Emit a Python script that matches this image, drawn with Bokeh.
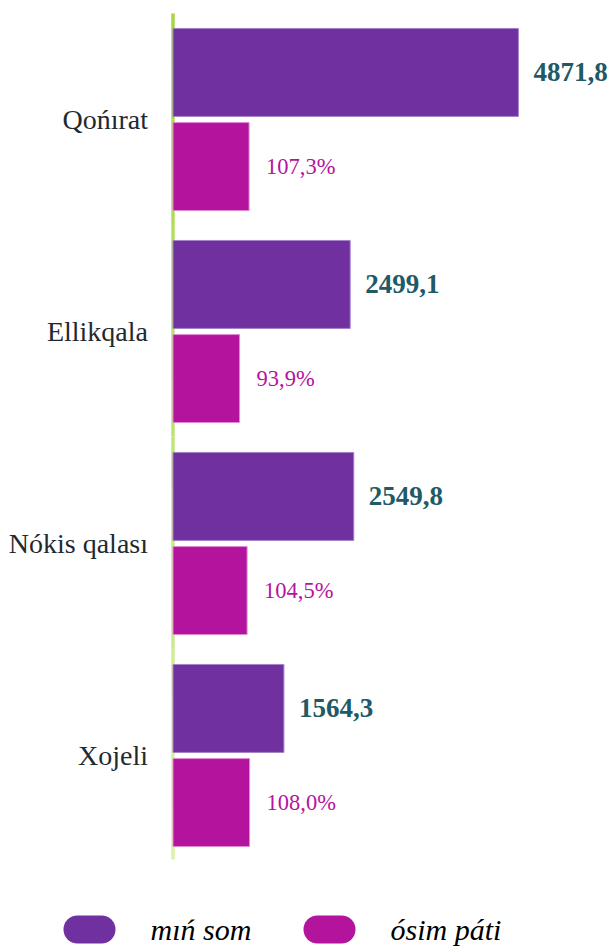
from bokeh.plotting import figure
from bokeh.models import Range1d, ColumnDataSource
from bokeh.core.properties import value
from bokeh.embed import file_html
from bokeh.resources import INLINE

# ---- data ----
regions = ["Qońırat", "Ellikqala", "Nókis qalası", "Xojeli"]
min_som = [4871.8, 2499.1, 2549.8, 1564.3]
osim_pati = [107.3, 93.9, 104.5, 108.0]
min_som_labels = ["4871,8", "2499,1", "2549,8", "1564,3"]
osim_labels = ["107,3%", "93,9%", "104,5%", "108,0%"]
series_names = ["mıń som", "ósim páti"]

# ---- styling / layout ----
PURPLE = "#7030A0"
MAGENTA = "#B4139E"
VAL_COLOR = "#215A66"
CAT_COLOR = "#1F2A30"
SERIF = "Liberation Serif"

W, H = 609, 946
X0PX = 172.5          # pixel of value zero inside the figure
SX = 0.0709           # pixels per "mıń som" unit
RATIO = 10.0          # percent axis is 10x stretched
BAND = 212.0          # pixels per category
TOPPX = 119.0         # pixel centre of first category

x_start = -X0PX / SX
x_end = (W - X0PX) / SX
y_top = -TOPPX / BAND
y_bottom = y_top + H / BAND


def fx(px):  # pixel -> primary x data
    return (px - X0PX) / SX


def fy(py):  # pixel -> y data
    return y_top + py / BAND


p = figure(width=W, height=H, output_backend="svg", toolbar_location=None,
           x_range=Range1d(x_start, x_end), y_range=Range1d(y_bottom, y_top),
           min_border=0, outline_line_color=None,
           x_axis_location=None, y_axis_location=None)
p.extra_x_ranges = {"pct": Range1d(x_start / RATIO, x_end / RATIO)}
p.grid.visible = False
p.background_fill_color = "white"
p.border_fill_color = "white"

idx = list(range(len(regions)))
OFF = 0.222
BH = 0.415

# green axis line with light gradient
n_seg = 16
c0 = (0xA6, 0xD6, 0x48)
c1 = (0xDC, 0xF1, 0xAC)
ya, yb = -0.5, 3.49
for i in range(n_seg):
    t = i / (n_seg - 1)
    col = "#%02x%02x%02x" % tuple(int(c0[k] + (c1[k] - c0[k]) * t) for k in range(3))
    p.segment(x0=[0], x1=[0], y0=[ya + (yb - ya) * i / n_seg],
              y1=[ya + (yb - ya) * (i + 1) / n_seg], line_color=col, line_width=3.5)

src = ColumnDataSource(dict(
    y1=[i - OFF for i in idx], y2=[i + OFF for i in idx],
    v1=min_som, v2=osim_pati, l1=min_som_labels, l2=osim_labels,
    cat=regions, yc=idx, zero=[0] * len(idx)))

p.hbar(y="y1", right="v1", left=0, height=BH, source=src,
       fill_color=PURPLE, line_color="#A383C8", line_width=1)
p.hbar(y="y2", right="v2", left=0, height=BH, source=src, x_range_name="pct",
       fill_color=MAGENTA, line_color="#E08AD5", line_width=1)

p.text(x="v1", y="y1", text="l1", source=src, x_offset=15,
       text_font=value(SERIF), text_font_size="27px", text_font_style="bold",
       text_color=VAL_COLOR, text_baseline="middle", text_align="left")
p.text(x="v2", y="y2", text="l2", source=src, x_range_name="pct", x_offset=17,
       text_font=value(SERIF), text_font_size="22.5px",
       text_color=MAGENTA, text_baseline="middle", text_align="left")
p.text(x="zero", y="yc", text="cat", source=src, x_offset=-25,
       text_font=value(SERIF), text_font_size="28px",
       text_color=CAT_COLOR, text_baseline="middle", text_align="right")

# legend (pills + italic labels)
pill_centres = [89, 329]
text_lefts = [150, 390]
colors = [PURPLE, MAGENTA]
half = 12 / SX
for cx, tl, col, name in zip(pill_centres, text_lefts, colors, series_names):
    p.segment(x0=[fx(cx) - half], x1=[fx(cx) + half], y0=[fy(929)], y1=[fy(929)],
              line_color=col, line_width=28, line_cap="round")
    p.text(x=[fx(tl)], y=[fy(929)], text=[name], text_font=value(SERIF),
           text_font_size="30px", text_font_style="italic", text_color="black",
           text_baseline="middle", text_align="left")

open("out.html", "w").write(file_html(p, INLINE))
